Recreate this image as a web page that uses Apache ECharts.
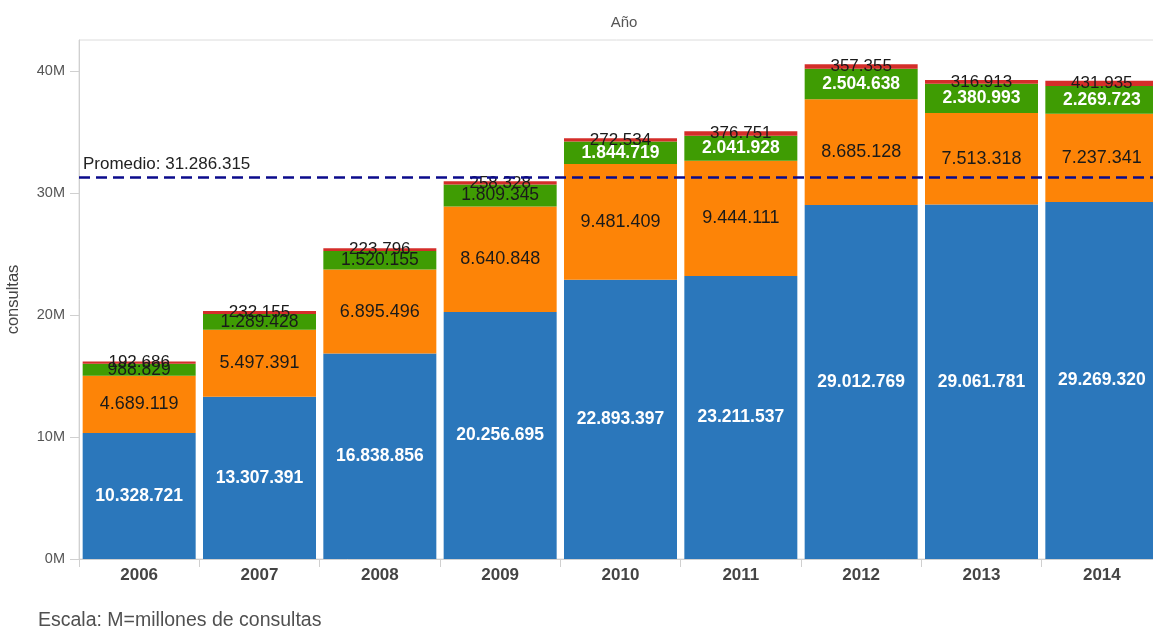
<!DOCTYPE html>
<html>
<head>
<meta charset="utf-8">
<title>Consultas por año</title>
<script src="https://cdn.jsdelivr.net/npm/echarts@6/dist/echarts.min.js"></script>
<style>
  html, body { margin: 0; padding: 0; background: #fff; }
  #chart { width: 1153px; height: 627px; }
</style>
</head>
<body>
<div id="chart"></div>
<script>
// Years on the category axis
const years = ['2006', '2007', '2008', '2009', '2010', '2011', '2012', '2013', '2014'];

// Stacked components of consultas per year (bottom to top)
const serieAzul = [10328721, 13307391, 16838856, 20256695, 22893397, 23211537, 29012769, 29061781, 29269320];
const serieNaranja = [4689119, 5497391, 6895496, 8640848, 9481409, 9444111, 8685128, 7513318, 7237341];
const serieVerde = [988829, 1289428, 1520155, 1809345, 1844719, 2041928, 2504638, 2380993, 2269723];
const serieRoja = [192686, 232155, 223796, 258328, 272534, 376751, 357355, 316913, 431935];

// Average line
const promedio = 31286315;

// Y axis ticks (millions)
const yTicks = [0, 10000000, 20000000, 30000000, 40000000];

const FONT = 'Liberation Sans, Arial, sans-serif';

function fmt(n) {
  return String(Math.round(n)).replace(/\B(?=(\d{3})+(?!\d))/g, '.');
}

const chart = echarts.init(document.getElementById('chart'));

function barSeries(name, data, color, labelStyle) {
  return {
    name: name,
    type: 'bar',
    stack: 'total',
    barWidth: 113,
    data: data,
    itemStyle: { color: color },
    label: Object.assign({
      show: true,
      position: 'inside',
      fontFamily: FONT,
      fontSize: 17,
      formatter: p => fmt(p.value)
    }, labelStyle),
    emphasis: { disabled: true },
    animation: false
  };
}

// Green labels are dark on the shorter segments, white bold on the taller ones
const greenData = serieVerde.map((v, i) => ({
  value: v,
  label: i < 4
    ? { color: '#1a1a1a', fontWeight: 'normal', fontSize: 17.5 }
    : { color: '#ffffff', fontWeight: 'bold', fontSize: 17.5 }
}));

const option = {
  animation: false,
  textStyle: { fontFamily: FONT },
  title: {
    text: 'Año',
    left: 619,
    textAlign: 'center',
    top: 10,
    textStyle: { fontFamily: FONT, fontSize: 15, fontWeight: 'normal', color: '#555' }
  },
  graphic: [{
    type: 'text',
    left: 38,
    top: 611,
    style: { text: 'Escala: M=millones de consultas', font: '19.5px ' + FONT, fill: '#505050' }
  }],
  grid: {
    left: 79, top: 40, bottom: 68, right: -9,
    outerBoundsMode: 'none',
    containLabel: false,
    show: true, borderColor: '#dcdcdc', borderWidth: 1
  },
  xAxis: {
    type: 'category',
    data: years,
    axisLine: { lineStyle: { color: '#d0d0d0' } },
    axisTick: { show: true, length: 8, lineStyle: { color: '#d0d0d0' } },
    axisLabel: { fontFamily: FONT, fontSize: 17, fontWeight: 'bold', color: '#444', margin: 8 }
  },
  yAxis: {
    type: 'value',
    min: yTicks[0],
    max: 42550000,
    interval: yTicks[1] - yTicks[0],
    name: 'consultas',
    nameLocation: 'middle',
    nameGap: 57,
    nameTextStyle: { fontFamily: FONT, fontSize: 16.5, color: '#444' },
    axisLine: { show: true, lineStyle: { color: '#d0d0d0' } },
    axisTick: { show: true, length: 9, lineStyle: { color: '#d0d0d0' } },
    splitLine: { show: false },
    axisLabel: {
      fontFamily: FONT, fontSize: 14.5, color: '#555', margin: 14,
      showMaxLabel: false,
      formatter: v => yTicks.includes(v) ? (v / 1000000) + 'M' : ''
    }
  },
  series: [
    barSeries('azul', serieAzul, '#2b77bb', { color: '#ffffff', fontWeight: 'bold', fontSize: 17.5 }),
    barSeries('naranja', serieNaranja, '#fd8407', { color: '#1a1a1a', fontSize: 18 }),
    barSeries('verde', greenData, '#3f9c03', {}),
    Object.assign(barSeries('roja', serieRoja, '#d42e2a', { color: '#1a1a1a', fontSize: 17 }), {
      markLine: {
        silent: true,
        symbol: 'none',
        data: [{ yAxis: promedio }],
        lineStyle: { color: '#0b0b8c', type: [11, 6], width: 2.5 },
        label: {
          show: true,
          position: 'insideStartTop',
          formatter: 'Promedio: ' + fmt(promedio),
          fontFamily: FONT, fontSize: 17, color: '#222',
          distance: [4, 5]
        }
      }
    })
  ]
};

chart.setOption(option);
</script>
</body>
</html>
